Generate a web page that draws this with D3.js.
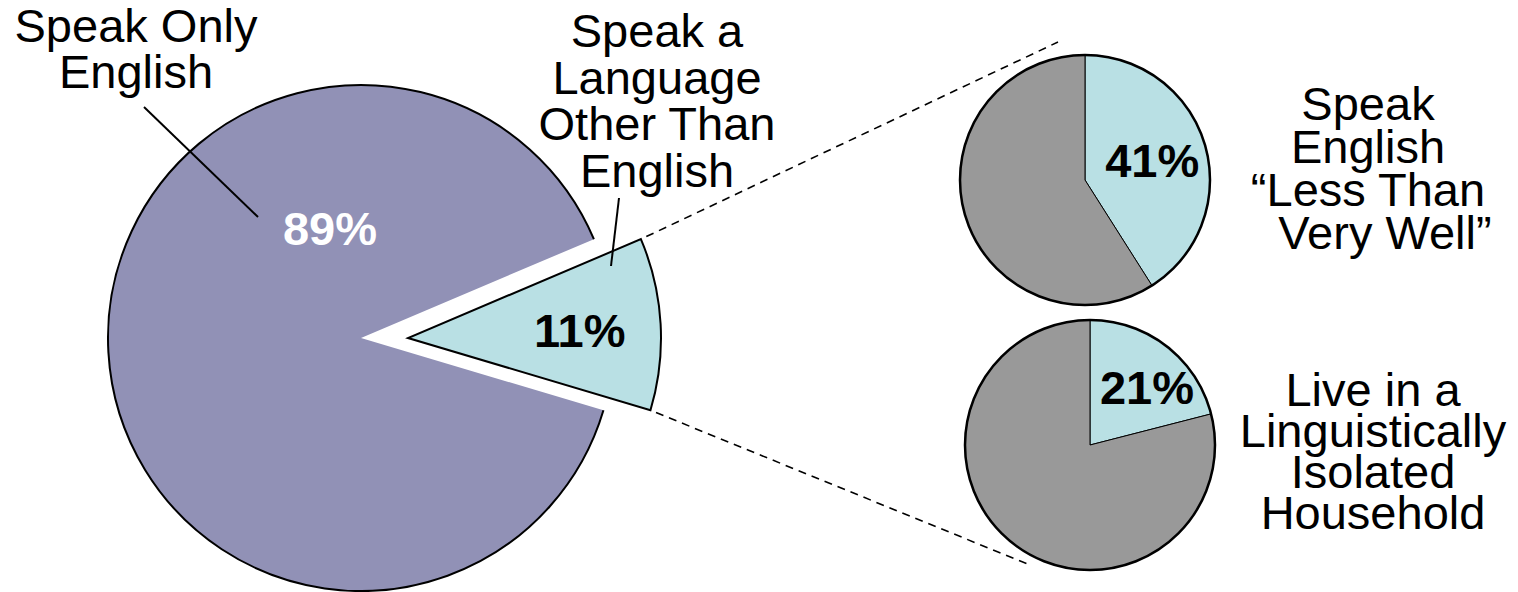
<!DOCTYPE html>
<html>
<head>
<meta charset="utf-8">
<script src="https://cdn.jsdelivr.net/npm/d3@7"></script>
<style>
  body { margin: 0; background: #fff; }
  text { font-family: "Liberation Sans", Arial, sans-serif; }
</style>
</head>
<body>
<div id="chart"></div>
<script>
// Data
const mainCategories = ["Speak a Language Other Than English", "Speak Only English"];
const mainValues = [11, 89];
const mainPctLabels = ["11%", "89%"];

const subCategories = ["Speak English “Less Than Very Well”", "Live in a Linguistically Isolated Household"];
const subValues = [
  [41, 59],
  [21, 79],
];
const subPctLabels = ["41%", "21%"];

const mainLabelLines = [
  ["Speak a", "Language", "Other Than", "English"],
  ["Speak Only", "English"],
];
const subLabelLines = [
  ["Speak", "English", "“Less Than", "Very Well”"],
  ["Live in a", "Linguistically", "Isolated", "Household"],
];

function draw() {
  // Dimensions
  const dimensions = { width: 1518, height: 592 };
  const main = { cx: 361, cy: 338, r: 253, explode: 47 };
  const subs = [
    { cx: 1085, cy: 180, r: 125 },
    { cx: 1090, cy: 445, r: 125 },
  ];

  const colors = { purple: "#9191b6", blue: "#b9e0e4", gray: "#999999" };
  const deg = Math.PI / 180;

  const svg = d3
    .select("#chart")
    .append("svg")
    .attr("width", dimensions.width)
    .attr("height", dimensions.height);

  // Main pie
  const startAngle = 67 * deg;
  const mainPie = d3
    .pie()
    .sort(null)
    .startAngle(startAngle)
    .endAngle(startAngle + 2 * Math.PI);
  const mainArcs = mainPie(mainValues);

  const arc = d3.arc().innerRadius(0).outerRadius(main.r);
  const rimArc = d3.arc().innerRadius(main.r).outerRadius(main.r);

  const mainG = svg.append("g").attr("transform", `translate(${main.cx}, ${main.cy})`);

  // Big slice: fill, outline only on the rim
  const big = mainArcs[1];
  mainG.append("path").attr("d", arc(big)).attr("fill", colors.purple);
  mainG
    .append("path")
    .attr("d", rimArc(big))
    .attr("fill", "none")
    .attr("stroke", "#000")
    .attr("stroke-width", 2);

  // Exploded small slice
  const small = mainArcs[0];
  const smallG = mainG.append("g").attr("transform", `translate(${main.explode}, 0)`);
  smallG
    .append("path")
    .attr("d", arc(small))
    .attr("fill", colors.blue)
    .attr("stroke", "#000")
    .attr("stroke-width", 2)
    .attr("stroke-linejoin", "miter");

  // Percent labels on main pie
  const smallC = d3.arc().innerRadius(172).outerRadius(172).centroid(small);
  smallG
    .append("text")
    .attr("x", smallC[0])
    .attr("y", smallC[1] + 2)
    .attr("text-anchor", "middle")
    .attr("dominant-baseline", "central")
    .attr("font-size", 47)
    .attr("font-weight", "bold")
    .attr("fill", "#000")
    .text(mainPctLabels[0]);

  mainG
    .append("text")
    .attr("x", -31)
    .attr("y", -110)
    .attr("text-anchor", "middle")
    .attr("dominant-baseline", "central")
    .attr("font-size", 47)
    .attr("font-weight", "bold")
    .attr("fill", "#fff")
    .text(mainPctLabels[1]);

  // Dashed connector lines from small slice corners
  const corner = (a) => [
    main.cx + main.explode + main.r * Math.sin(a),
    main.cy - main.r * Math.cos(a),
  ];
  const c1 = corner(small.startAngle);
  const c2 = corner(small.endAngle);
  const ends = [
    [subs[0].cx - 27, subs[0].cy - 138],
    [subs[1].cx - 60, subs[1].cy + 120],
  ];
  [[c1, ends[0]], [c2, ends[1]]].forEach(([a, b]) => {
    const dx = b[0] - a[0], dy = b[1] - a[1];
    const len = Math.hypot(dx, dy);
    const gap = 6;
    svg
      .append("line")
      .attr("x1", a[0] + (dx / len) * gap)
      .attr("y1", a[1] + (dy / len) * gap)
      .attr("x2", b[0])
      .attr("y2", b[1])
      .attr("stroke", "#000")
      .attr("stroke-width", 1.6)
      .attr("stroke-dasharray", "8 6");
  });

  // Small pies
  const subPie = d3.pie().sort(null);
  const labelRadius = [70, 80];
  const labelNudge = [[0, 0], [8, 6]];
  subs.forEach((s, i) => {
    const g = svg.append("g").attr("transform", `translate(${s.cx}, ${s.cy})`);
    const sArc = d3.arc().innerRadius(0).outerRadius(s.r);
    const arcs = subPie(subValues[i]);

    g.selectAll("path.slice")
      .data(arcs)
      .join("path")
      .attr("class", "slice")
      .attr("d", sArc)
      .attr("fill", (d, j) => (j === 0 ? colors.blue : colors.gray))
      .attr("stroke", "#000")
      .attr("stroke-width", 1);

    g.append("circle")
      .attr("r", s.r)
      .attr("fill", "none")
      .attr("stroke", "#000")
      .attr("stroke-width", 2.5);

    const lr = labelRadius[i];
    const c = d3.arc().innerRadius(lr).outerRadius(lr).centroid(arcs[0]);
    g.append("text")
      .attr("x", c[0] + labelNudge[i][0])
      .attr("y", c[1] + labelNudge[i][1])
      .attr("text-anchor", "middle")
      .attr("dominant-baseline", "central")
      .attr("font-size", 47)
      .attr("font-weight", "bold")
      .text(subPctLabels[i]);
  });

  // Category labels
  const addLabel = (lines, x, y, lineH, shifts = []) => {
    const t = svg
      .append("text")
      .attr("text-anchor", "middle")
      .attr("font-size", 47)
      .attr("fill", "#000");
    lines.forEach((line, k) => {
      t.append("tspan")
        .attr("x", x + (shifts[k] || 0))
        .attr("y", y + k * lineH)
        .text(line);
    });
  };

  addLabel(mainLabelLines[0], 657, 47, 46.5);
  addLabel(mainLabelLines[1], 136, 42, 46);
  addLabel(subLabelLines[0], 1368, 120, 43, [0, 0, 0, 17]);
  addLabel(subLabelLines[1], 1373, 406, 41);

  // Leader lines
  const leaders = [
    [[619, 198], [611, 266]],
    [[144, 107], [258, 217]],
  ];
  leaders.forEach(([a, b]) => {
    svg
      .append("line")
      .attr("x1", a[0])
      .attr("y1", a[1])
      .attr("x2", b[0])
      .attr("y2", b[1])
      .attr("stroke", "#000")
      .attr("stroke-width", 2);
  });
}

draw();
</script>
</body>
</html>
